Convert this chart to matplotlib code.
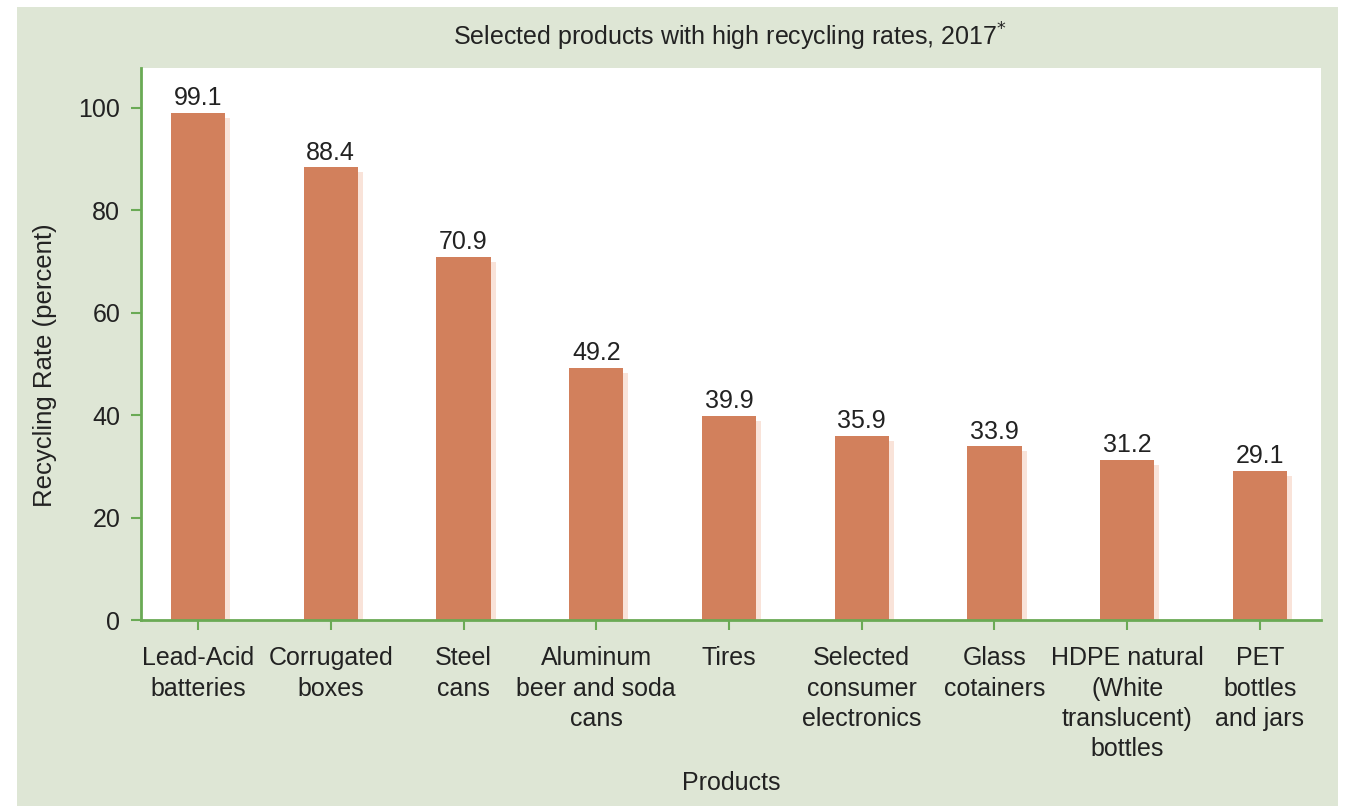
import matplotlib.pyplot as plt
import matplotlib.transforms as mtransforms
from matplotlib.patches import Rectangle

products = ['Lead-Acid\nbatteries', 'Corrugated\nboxes', 'Steel\ncans',
            'Aluminum\nbeer and soda\ncans', 'Tires', 'Selected\nconsumer\nelectronics',
            'Glass\ncotainers', 'HDPE natural\n(White\ntranslucent)\nbottles',
            'PET\nbottles\nand jars']
rates = [99.1, 88.4, 70.9, 49.2, 39.9, 35.9, 33.9, 31.2, 29.1]
yticks = [0, 20, 40, 60, 80, 100]

panel_color = '#dee6d5'
axis_green = '#6aaa55'
bar_color = '#d2805c'
shadow_color = '#f9e3d9'
text_color = '#222222'

plt.rcParams['font.family'] = ['Liberation Sans', 'DejaVu Sans']

fig = plt.figure(figsize=(13.5, 8.06), dpi=100)
fig.patch.set_facecolor('white')
fig.patches.append(Rectangle((17 / 1350, 0), (1338 - 17) / 1350, 1 - 7 / 806,
                             transform=fig.transFigure, facecolor=panel_color,
                             edgecolor='none', zorder=-10))

ax = fig.add_axes([141 / 1350, 1 - 620 / 806, (1321 - 141) / 1350, (620 - 68) / 806])
ax.set_facecolor('white')

x = list(range(len(rates)))
# faint offset copy of each bar, like the drop shadow in the original
shadow_tr = ax.transData + mtransforms.ScaledTranslation(5 / 100, -5 / 100, fig.dpi_scale_trans)
ax.bar(x, rates, width=0.41, color=shadow_color, transform=shadow_tr, zorder=1)
ax.bar(x, rates, width=0.41, color=bar_color, zorder=2)

for xi, r in zip(x, rates):
    ax.annotate(f'{r}', (xi, r), xytext=(0, 2), textcoords='offset points',
                ha='center', va='bottom', fontsize=18, color=text_color)

ax.set_xlim(-0.43, 8.46)
ax.set_ylim(0, 107.8)
ax.set_yticks(yticks)
ax.set_xticks(x)
ax.set_xticklabels(products, fontsize=18, color=text_color, linespacing=1.33)
ax.tick_params(axis='y', labelsize=18, labelcolor=text_color, color=axis_green,
               length=7, width=1.5, pad=8)
ax.tick_params(axis='x', color=axis_green, length=7, width=1.5, pad=12)

for s in ['top', 'right']:
    ax.spines[s].set_visible(False)
for s in ['left', 'bottom']:
    ax.spines[s].set_color(axis_green)
    ax.spines[s].set_linewidth(2)

fig.text(730 / 1350, 1 - 37 / 806, 'Selected products with high recycling rates, 2017$^{*}$',
         ha='center', va='center', fontsize=18, color=text_color)
fig.text(45 / 1350, 1 - 365 / 806, 'Recycling Rate (percent)', rotation=90,
         ha='center', va='center', fontsize=18.5, color=text_color)
fig.text(731 / 1350, 1 - 783 / 806, 'Products', ha='center', va='center',
         fontsize=18, color=text_color)

fig.savefig('out.png', dpi=100)
